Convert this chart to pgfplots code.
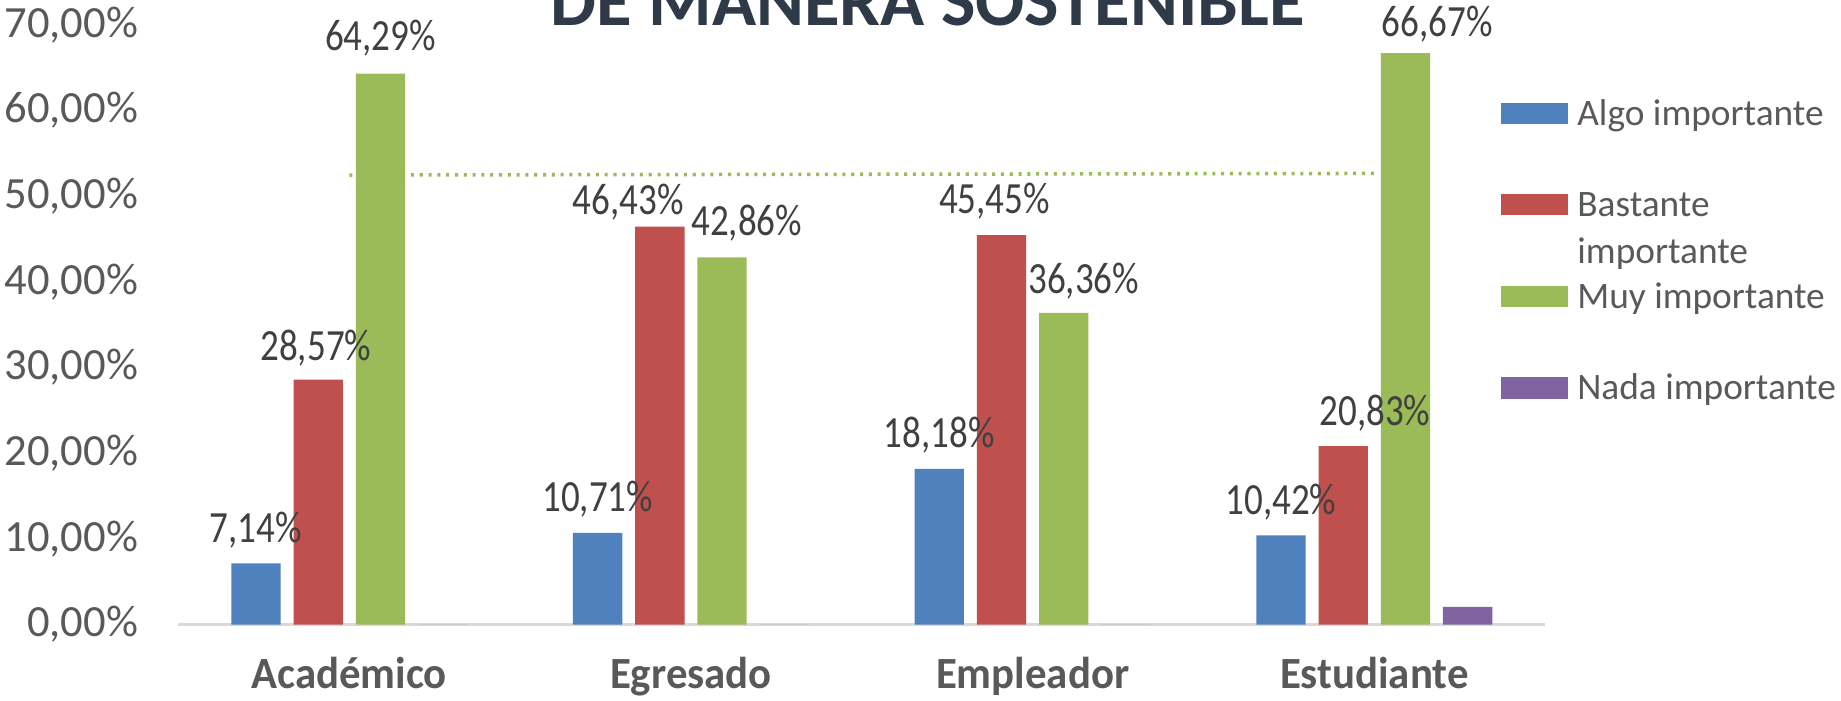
\documentclass[border=0pt]{standalone}
\usepackage{fontspec}
\setmainfont{Carlito}
\newfontfamily\condfont{Carlito}[FakeStretch=0.83]
\newfontfamily\catfont{Carlito}[FakeStretch=0.96]
\usepackage{pgfplots}
\pgfplotsset{compat=1.18}
\usepackage{pgfplotstable}

\definecolor{cA}{HTML}{4F81BD}
\definecolor{cB}{HTML}{C0504D}
\definecolor{cC}{HTML}{9BBB59}
\definecolor{cD}{HTML}{8064A2}
\definecolor{txtgray}{HTML}{595959}
\definecolor{labgray}{HTML}{404040}
\definecolor{ttl}{HTML}{2F3A48}
\definecolor{axgray}{HTML}{D9D9D9}

\pgfplotstableread{
x y lab lx ly
0 7.14 7,14 0 14
1 10.71 10,71 0 14.5
2 18.18 18,18 0 14.5
3 10.42 10,42 0 14
}\algo
\pgfplotstableread{
x y lab lx ly
0 28.57 28,57 -1 13.5
1 46.43 46,43 -13.5 10.5
2 45.45 45,45 -3 14.5
3 20.83 20,83 13.5 14
}\bastante
\pgfplotstableread{
x y lab lx ly
0 64.29 64,29 0 15
1 42.86 42,86 10.5 14.5
2 36.36 36,36 8.5 13.5
3 66.67 66,67 13.5 12.5
}\muy
\pgfplotstableread{
x y
0 0
1 0
2 0
3 2.08
}\nada

\begin{document}
\begin{tikzpicture}
\useasboundingbox (0,0) rectangle (784pt,298.5pt);
\node[anchor=base, font=\fontsize{31}{36}\selectfont\bfseries, text=ttl] at (395pt,287.5pt) {DE MANERA SOSTENIBLE};
\begin{axis}[
  at={(76pt,32.5pt)}, anchor=south west,
  scale only axis, width=582pt, height=255.5pt,
  xmin=-0.5, xmax=3.5, ymin=0, ymax=70,
  axis line style={draw=none}, tick style={draw=none},
  xtick={0,1,2,3}, xticklabels={Académico,Egresado,Empleador,Estudiante},
  ytick={0,10,20,30,40,50,60,70},
  yticklabels={{0,00\%},{10,00\%},{20,00\%},{30,00\%},{40,00\%},{50,00\%},{60,00\%},{70,00\%}},
  xticklabel style={anchor=base, inner sep=0pt, yshift=-27pt, font=\catfont\fontsize{19}{22}\selectfont\bfseries, text=txtgray},
  yticklabel style={anchor=east, inner sep=0pt, xshift=-17pt, font=\fontsize{19}{22}\selectfont, text=txtgray},
  /pgf/number format/assume math mode=true,
  clip=false,
  legend style={at={(axis description cs:0.9674,0.9295)}, anchor=north west, draw=none, fill=none,
    inner sep=0pt, row sep=0pt, font=\fontsize{15.9}{20}\selectfont, text=txtgray,
    nodes={inner sep=0pt, text height=24.6pt, text depth=14.4pt},
    /tikz/every odd column/.append style={column sep=4pt}},
  legend cell align=left,
  legend image code/.code={\fill[#1] (0pt,-4.5pt) rectangle (28.5pt,4.5pt);},
  lbl/.style={nodes near coords={\pgfplotspointmeta\%}, point meta=explicit symbolic,
    visualization depends on={\thisrow{lx} \as \lx},
    visualization depends on={\thisrow{ly} \as \ly},
    every node near coord/.append style={anchor=center, inner sep=0pt, xshift={(\lx+(#1))*1pt}, yshift=\ly*1pt,
      font=\condfont\fontsize{19}{22}\selectfont, text=labgray}},
]
\draw[axgray, line width=1pt] (rel axis cs:0,0) -- (rel axis cs:1,0);
\addplot[ybar, bar width=21pt, bar shift=-39.75pt, fill=cA, draw=none, lbl={-39.75}] table[x=x, y=y, meta=lab] {\algo};
\addlegendentry{Algo importante}
\addplot[ybar, bar width=21pt, bar shift=-13.25pt, fill=cB, draw=none, lbl={-13.25}] table[x=x, y=y, meta=lab] {\bastante};
\addlegendentry{\parbox[t]{120pt}{\baselineskip=20pt Bastante\\importante}}
\addplot[ybar, bar width=21pt, bar shift=13.25pt, fill=cC, draw=none, lbl={13.25}] table[x=x, y=y, meta=lab] {\muy};
\addlegendentry{Muy importante}
\addplot[ybar, bar width=21pt, bar shift=39.75pt, fill=cD, draw=none] table[x=x, y=y] {\nada};
\addlegendentry{Nada importante}
\addplot[sharp plot, cC, line width=1.5pt, line cap=butt, dash pattern=on 1.3pt off 2.45pt, forget plot] coordinates {(0,52.45) (3,52.64)};
\end{axis}
\end{tikzpicture}
\end{document}
